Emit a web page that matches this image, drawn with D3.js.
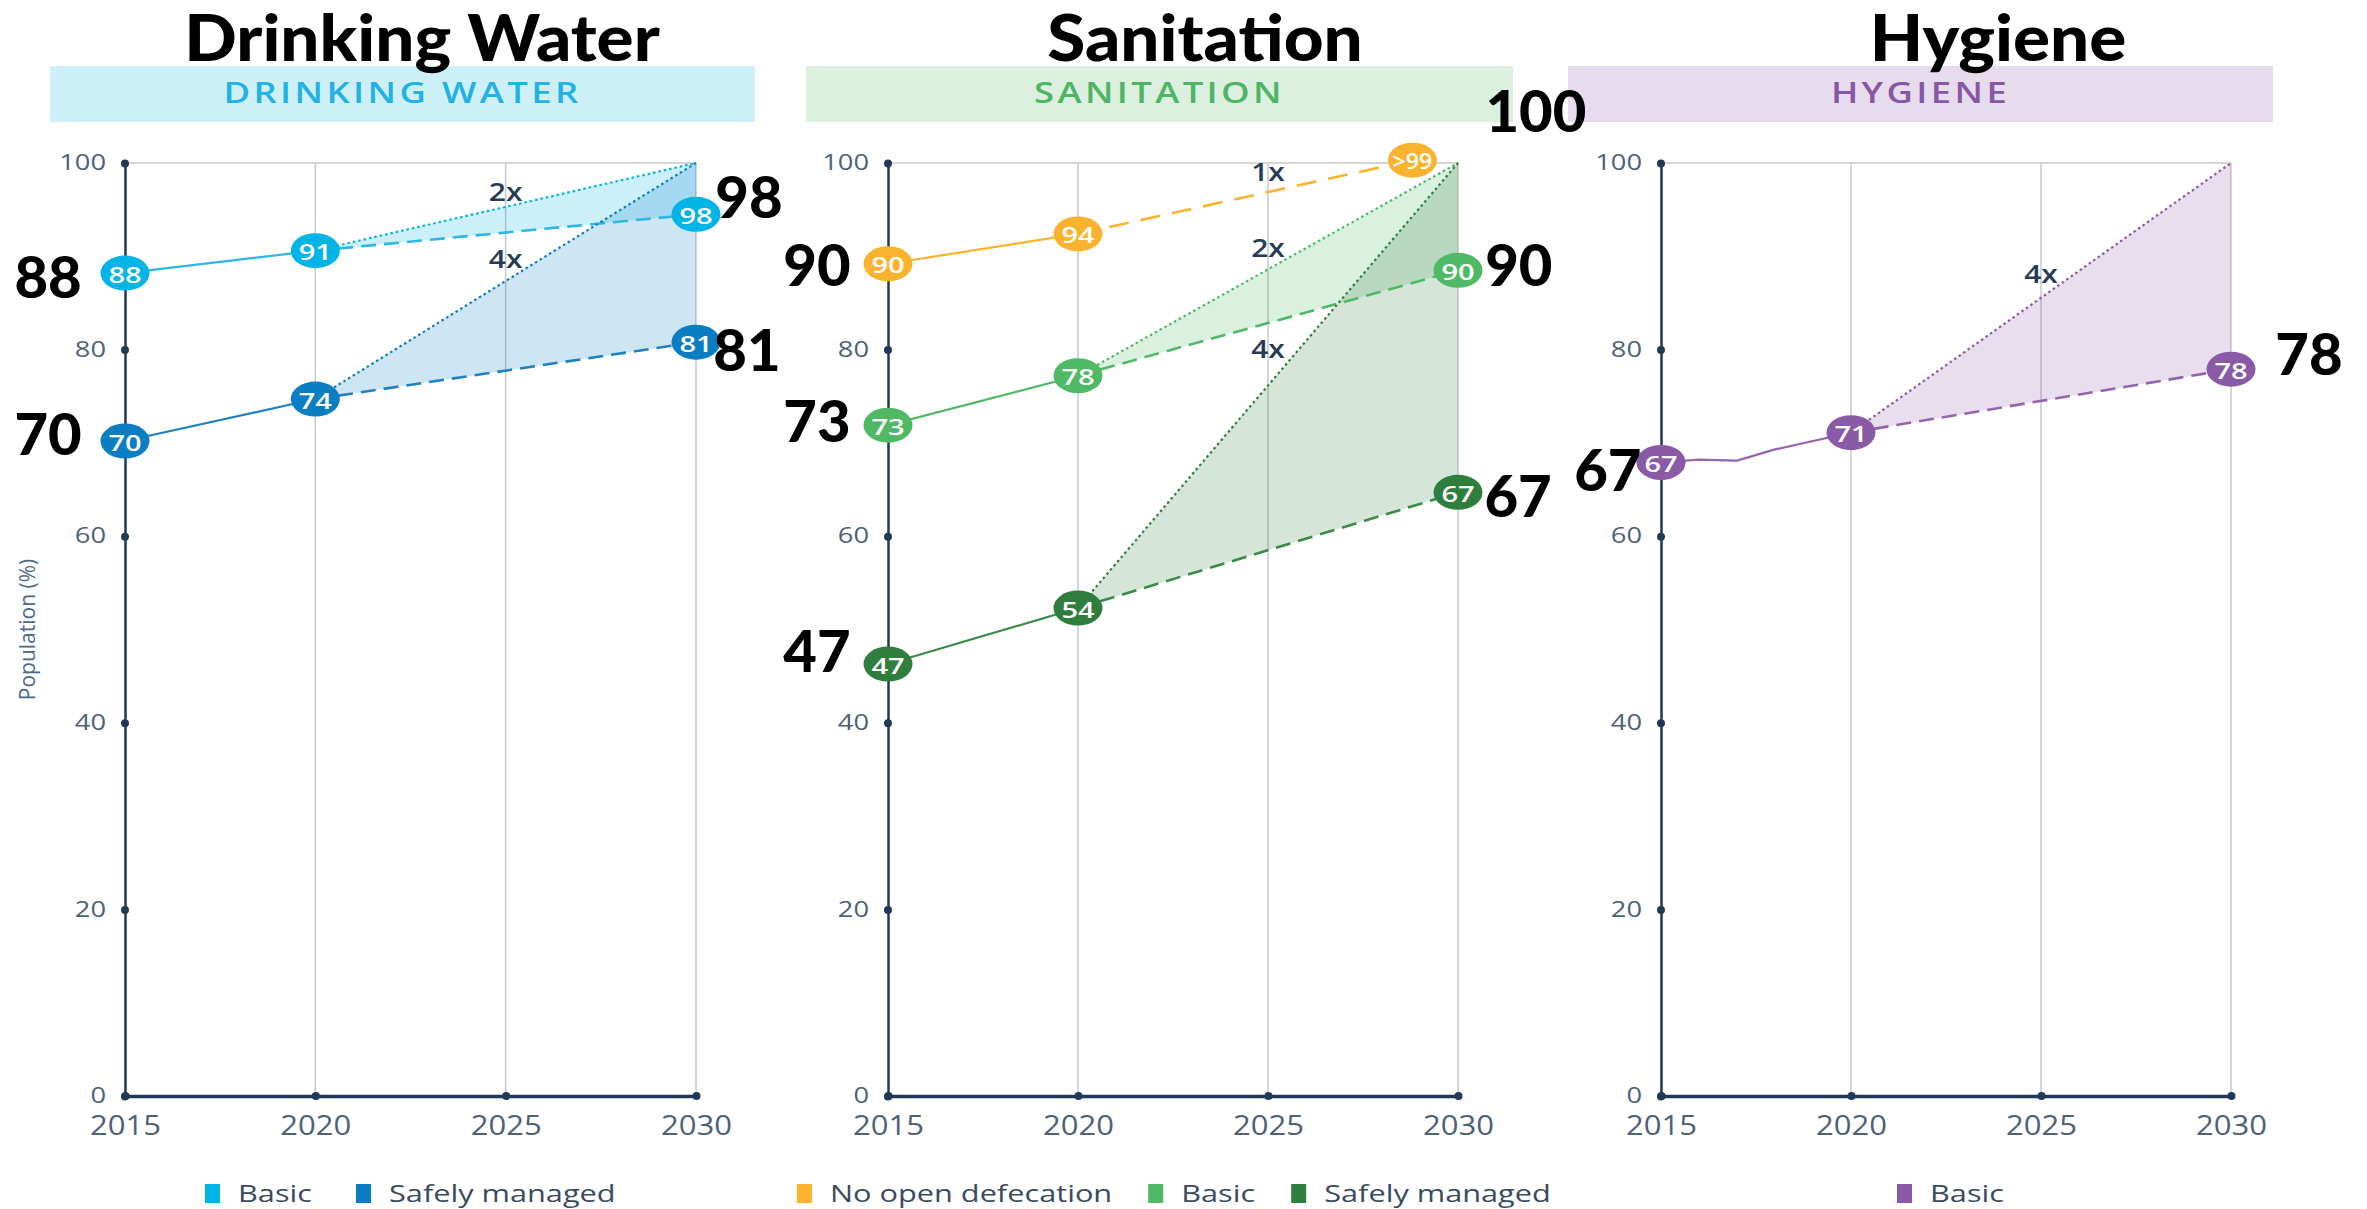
<!DOCTYPE html>
<html>
<head>
<meta charset="utf-8">
<script src="https://cdn.jsdelivr.net/npm/d3@7"></script>
<style>
  html, body { margin: 0; padding: 0; background: #fff; }
  svg { display: block; }
</style>
</head>
<body>
<svg id="chart" width="2367" height="1209"></svg>
<script>
// ---- data ----
const years = [2015, 2020, 2025, 2030];
const yTicks = [0, 20, 40, 60, 80, 100];
const targetYear = 2030;
const targetValue = 100;

// drinking water
const dwBasicYears = [2015, 2020, 2030];
const dwBasicValues = [88.2, 90.6, 94.5];
const dwBasicLabels = ["88", "91", "98"];
const dwSafeYears = [2015, 2020, 2030];
const dwSafeValues = [70.2, 74.7, 80.8];
const dwSafeLabels = ["70", "74", "81"];
const dwRates = ["2x", "4x"];
const dwRateLevels = [97.0, 89.8];
const dwNotes = ["88", "70", "98", "81"];
const dwNoteYears = [2012.98, 2012.98, 2031.39, 2031.34];
const dwNoteLevels = [87.9, 71.1, 96.5, 80.1];

// sanitation
const sanOdYears = [2015, 2020, 2028.8];
const sanOdValues = [89.2, 92.4, 100.3];
const sanOdLabels = ["90", "94", ">99"];
const sanBasicYears = [2015, 2020, 2030];
const sanBasicValues = [71.9, 77.2, 88.5];
const sanBasicLabels = ["73", "78", "90"];
const sanSafeYears = [2015, 2020, 2030];
const sanSafeValues = [46.3, 52.3, 64.7];
const sanSafeLabels = ["47", "54", "67"];
const sanRates = ["1x", "2x", "4x"];
const sanRateLevels = [99.1, 91.0, 80.2];
const sanNotes = ["90", "73", "47", "100", "90", "67"];
const sanNoteYears = [2013.13, 2013.13, 2013.13, 2032.05, 2031.6, 2031.58];
const sanNoteLevels = [89.2, 72.5, 47.9, 105.7, 89.2, 64.5];

// hygiene
const hygTrendYears = [2015, 2016, 2017, 2018, 2019, 2020];
const hygTrendValues = [67.9, 68.2, 68.1, 69.3, 70.2, 71.1];
const hygYears = [2015, 2020, 2030];
const hygValues = [67.9, 71.1, 77.9];
const hygLabels = ["67", "71", "78"];
const hygRates = ["4x"];
const hygRateLevels = [88.2];
const hygNotes = ["67", "78"];
const hygNoteYears = [2013.6, 2032.05];
const hygNoteLevels = [67.3, 79.7];

// ---- styles ----
const SX = 1.3;
const FONT = "'Open Sans', 'Noto Sans', sans-serif";
const TITLE_FONT = "Lato, 'Liberation Sans', sans-serif";
const NAVY = "#1f3a56";
const TICK_TEXT = "#4d6178";

const svg = d3.select("#chart");
const y = d3.scaleLinear().domain([0, 100]).range([1096, 163]);

function addText(g, x, yy, txt, o) {
  const t = g.append("text")
    .attr("transform", `translate(${x},${yy}) scale(${o.sx || SX},1)`)
    .attr("text-anchor", o.anchor || "middle")
    .attr("dominant-baseline", o.baseline || "auto")
    .attr("font-family", o.family || FONT)
    .attr("font-size", o.size)
    .attr("font-weight", o.weight || 400)
    .attr("fill", o.fill || "#000")
    .text(txt);
  if (o.spacing) t.attr("letter-spacing", o.spacing);
  return t;
}

const panels = [
  {
    title: "Drinking Water", band: "DRINKING WATER", bandFill: "#cdeff8", bandColor: "#22b2e3",
    left: 125, right: 696, bandX: [50, 755], titleX: 422, legendX: 205, legendGap: 44, yLabel: true,
    series: [
      { years: dwBasicYears, values: dwBasicValues, labels: dwBasicLabels, color: "#00b4e6", line: "#2cb7e6",
        fill: "rgba(0,181,232,0.2)", rate: dwRates[0], rateLevel: dwRateLevels[0], legend: "Basic" },
      { years: dwSafeYears, values: dwSafeValues, labels: dwSafeLabels, color: "#0b7dc3", line: "#1f80c4",
        fill: "rgba(10,124,194,0.2)", rate: dwRates[1], rateLevel: dwRateLevels[1], legend: "Safely managed" }
    ],
    notes: dwNotes, noteYears: dwNoteYears, noteLevels: dwNoteLevels
  },
  {
    title: "Sanitation", band: "SANITATION", bandFill: "#dcf0df", bandColor: "#4db563",
    left: 888, right: 1458, bandX: [806, 1513], titleX: 1205, legendX: 797, legendGap: 36,
    series: [
      { years: sanOdYears, values: sanOdValues, labels: sanOdLabels, color: "#fbb32f", line: "#fbb32f",
        rate: sanRates[0], rateLevel: sanRateLevels[0], noTarget: true, dash: "20,12", legend: "No open defecation" },
      { years: sanBasicYears, values: sanBasicValues, labels: sanBasicLabels, color: "#4fb966", line: "#4fb966",
        fill: "rgba(76,185,99,0.2)", rate: sanRates[1], rateLevel: sanRateLevels[1], legend: "Basic" },
      { years: sanSafeYears, values: sanSafeValues, labels: sanSafeLabels, color: "#2f7e3e", line: "#3a8a48",
        fill: "rgba(46,125,60,0.2)", rate: sanRates[2], rateLevel: sanRateLevels[2], legend: "Safely managed" }
    ],
    notes: sanNotes, noteYears: sanNoteYears, noteLevels: sanNoteLevels
  },
  {
    title: "Hygiene", band: "HYGIENE", bandFill: "#e7dced", bandColor: "#8856a4",
    left: 1661, right: 2231, bandX: [1568, 2273], titleX: 1998, legendX: 1897, legendGap: 36,
    series: [
      { years: hygYears, values: hygValues, labels: hygLabels, color: "#8b5aa6", line: "#9464ad",
        trendYears: hygTrendYears, trendValues: hygTrendValues,
        fill: "rgba(139,89,166,0.2)", rate: hygRates[0], rateLevel: hygRateLevels[0], legend: "Basic" }
    ],
    notes: hygNotes, noteYears: hygNoteYears, noteLevels: hygNoteLevels
  }
];

const scales = [];

panels.forEach(p => {
  const g = svg.append("g");
  const x = d3.scaleLinear().domain([2015, 2030]).range([p.left, p.right]);
  scales.push(x);
  const line = d3.line().x(d => x(d[0])).y(d => y(d[1]));

  // band
  g.append("rect")
    .attr("x", p.bandX[0]).attr("y", 66)
    .attr("width", p.bandX[1] - p.bandX[0]).attr("height", 56)
    .attr("fill", p.bandFill);
  addText(g, (p.bandX[0] + p.bandX[1]) / 2, 103, p.band,
    { size: 28, weight: 600, fill: p.bandColor, spacing: 2.6, sx: 1.3 });

  // grid
  g.selectAll(".vgrid").data(years.slice(1)).enter().append("line")
    .attr("x1", d => x(d)).attr("x2", d => x(d))
    .attr("y1", y(0)).attr("y2", y(100))
    .attr("stroke", "#c8c8c8").attr("stroke-width", 1.5);
  g.append("line")
    .attr("x1", x(2015)).attr("x2", x(2030))
    .attr("y1", y(100)).attr("y2", y(100))
    .attr("stroke", "#c8c8c8").attr("stroke-width", 1.5);

  // accelerated areas
  p.series.filter(s => s.fill).forEach(s => {
    const i = s.years.indexOf(2020);
    const n = s.years.length - 1;
    const pts = [[2020, s.values[i]], [targetYear, targetValue], [s.years[n], s.values[n]]];
    g.append("path").attr("d", line(pts) + "Z").attr("fill", s.fill);
  });

  // axes
  const yAxis = g.append("g")
    .attr("transform", `translate(${x(2015)},0)`)
    .call(d3.axisLeft(y).tickValues(yTicks).tickSize(0).tickPadding(19));
  yAxis.select(".domain").attr("stroke", NAVY).attr("stroke-width", 2.5);
  yAxis.selectAll(".tick text")
    .attr("font-family", FONT).attr("font-size", 21).attr("fill", TICK_TEXT)
    .attr("x", -19 / SX).attr("transform", `scale(${SX},1)`);
  yAxis.selectAll(".tick").append("circle").attr("r", 4).attr("fill", NAVY);

  const xAxis = g.append("g")
    .attr("transform", `translate(0,${y(0)})`)
    .call(d3.axisBottom(x).tickValues(years).tickFormat(d3.format("d")).tickSize(0).tickPadding(20));
  xAxis.select(".domain").attr("stroke", NAVY).attr("stroke-width", 3.5);
  xAxis.selectAll(".tick text")
    .attr("font-family", FONT).attr("font-size", 27).attr("fill", TICK_TEXT)
    .attr("transform", `scale(1.15,1)`);
  xAxis.selectAll(".tick").append("circle").attr("r", 4).attr("fill", NAVY);

  if (p.yLabel) {
    g.append("text")
      .attr("transform", `translate(27,${y(50)}) rotate(-90)`)
      .attr("text-anchor", "middle").attr("dominant-baseline", "central")
      .attr("font-family", FONT).attr("font-size", 21).attr("fill", "#4a6a8a")
      .text("Population (%)");
  }

  // lines
  p.series.forEach(s => {
    const i = s.years.indexOf(2020);
    const n = s.years.length - 1;
    const solid = s.trendYears ? s.trendYears.map((d, k) => [d, s.trendValues[k]])
      : s.years.slice(0, i + 1).map((d, k) => [d, s.values[k]]);
    g.append("path").attr("d", line(solid))
      .attr("fill", "none").attr("stroke", s.line).attr("stroke-width", 2.2);
    g.append("path").attr("d", line([[2020, s.values[i]], [s.years[n], s.values[n]]]))
      .attr("fill", "none").attr("stroke", s.line).attr("stroke-width", 2.6)
      .attr("stroke-dasharray", s.dash || "15,8");
    if (!s.noTarget) {
      g.append("path").attr("d", line([[2020, s.values[i]], [targetYear, targetValue]]))
        .attr("fill", "none").attr("stroke", s.color).attr("stroke-width", 2.2)
        .attr("stroke-dasharray", "2.5,3");
    }
  });

  // rate labels
  p.series.forEach(s => {
    addText(g, x(2025), y(s.rateLevel), s.rate,
      { size: 25, weight: 600, fill: "#263c55", baseline: "central", sx: 1.2 });
  });

  // markers
  p.series.forEach(s => {
    const m = g.selectAll(null).data(s.years.map((d, k) => [d, s.values[k], s.labels[k]]))
      .enter().append("g")
      .attr("transform", d => `translate(${x(d[0])},${y(d[1])})`);
    m.append("ellipse").attr("rx", 24.5).attr("ry", 17.5).attr("fill", s.color);
    m.each(function(d) {
      addText(d3.select(this), 0, 1, d[2],
        { size: 22, weight: 600, fill: "#fff", baseline: "central", sx: d[2].length > 2 ? 1.05 : 1.32 });
    });
  });

  // legend
  let lx = p.legendX;
  p.series.forEach(s => {
    g.append("rect").attr("x", lx).attr("y", 1184).attr("width", 15).attr("height", 19).attr("fill", s.color);
    const t = addText(g, lx + 33, 1202, s.legend, { size: 24, fill: "#3b4b5e", anchor: "start", sx: 1.28 });
    lx += 33 + t.node().getComputedTextLength() * 1.28 + p.legendGap;
  });
});

// titles and big annotations on top of everything
panels.forEach((p, pi) => {
  const x = scales[pi];
  const g = svg.append("g");
  addText(g, p.titleX, 61, p.title, { size: 64, weight: 900, family: TITLE_FONT, sx: 1.08 });
  p.notes.forEach((t, k) => {
    addText(g, x(p.noteYears[k]), y(p.noteLevels[k]), t,
      { size: 58, weight: 900, family: TITLE_FONT, baseline: "central", sx: 1.0 });
  });
});
</script>
</body>
</html>
